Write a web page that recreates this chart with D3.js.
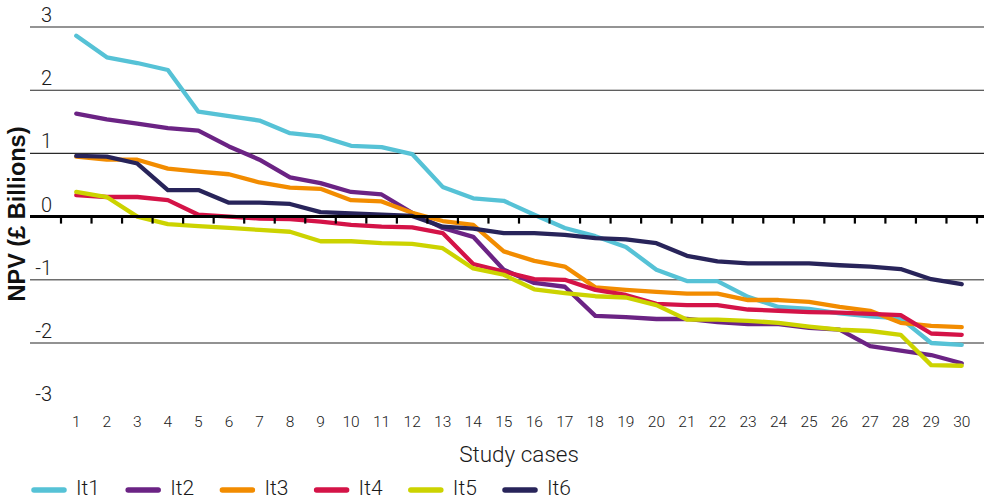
<!DOCTYPE html>
<html>
<head>
<meta charset="utf-8">
<script src="https://cdn.jsdelivr.net/npm/d3@7"></script>
<style>
  html, body { margin: 0; padding: 0; background: #fff; }
  svg { display: block; }
  .lt { font-family: Roboto, "Liberation Sans", Arial, sans-serif; font-weight: 300; fill: #1a1a1a; }
</style>
</head>
<body>
<svg id="chart" width="984" height="500"></svg>
<script>
const categories = d3.range(1, 31).map(String);
const yTicks = [3, 2, 1, 0, -1, -2, -3];
const seriesNames = ["It1", "It2", "It3", "It4", "It5", "It6"];
const seriesColors = ["#56C2D6", "#6B2384", "#F28C00", "#D41347", "#CCD300", "#28245A"];

const it1 = [2.86, 2.52, 2.43, 2.32, 1.66, 1.59, 1.52, 1.32, 1.27, 1.12, 1.10, 0.99, 0.47, 0.29, 0.25, 0.03, -0.18, -0.31, -0.48, -0.84, -1.02, -1.02, -1.27, -1.43, -1.46, -1.53, -1.58, -1.61, -2.00, -2.03];
const it2 = [1.63, 1.54, 1.47, 1.40, 1.36, 1.11, 0.90, 0.62, 0.53, 0.39, 0.35, 0.06, -0.18, -0.32, -0.84, -1.05, -1.11, -1.57, -1.59, -1.62, -1.62, -1.67, -1.70, -1.70, -1.76, -1.79, -2.05, -2.12, -2.19, -2.32];
const it3 = [0.95, 0.90, 0.90, 0.76, 0.71, 0.67, 0.54, 0.46, 0.44, 0.26, 0.24, 0.06, -0.07, -0.13, -0.55, -0.70, -0.79, -1.12, -1.16, -1.19, -1.22, -1.22, -1.32, -1.32, -1.35, -1.43, -1.49, -1.68, -1.73, -1.75];
const it4 = [0.34, 0.31, 0.31, 0.26, 0.03, 0.00, -0.03, -0.04, -0.08, -0.13, -0.16, -0.17, -0.26, -0.75, -0.87, -0.99, -1.00, -1.16, -1.24, -1.38, -1.40, -1.40, -1.47, -1.49, -1.51, -1.52, -1.54, -1.56, -1.85, -1.87];
const it5 = [0.39, 0.31, 0.00, -0.12, -0.15, -0.18, -0.21, -0.24, -0.39, -0.39, -0.42, -0.43, -0.50, -0.82, -0.92, -1.15, -1.21, -1.26, -1.28, -1.40, -1.63, -1.63, -1.65, -1.68, -1.74, -1.79, -1.81, -1.87, -2.35, -2.36];
const it6 = [0.96, 0.95, 0.84, 0.42, 0.42, 0.22, 0.22, 0.20, 0.07, 0.05, 0.03, 0.01, -0.16, -0.19, -0.26, -0.26, -0.29, -0.34, -0.36, -0.42, -0.62, -0.71, -0.74, -0.74, -0.74, -0.77, -0.79, -0.83, -0.99, -1.07];
const seriesValues = [it1, it2, it3, it4, it5, it6];

const svg = d3.select("#chart");

const x = d3.scaleBand().domain(categories).range([61, 977]).padding(0);
const y = d3.scaleLinear().domain([-3, 3]).range([406.2, 27]);
const cx = c => x(c) + x.bandwidth() / 2;

// gridlines (excluding zero and bottom)
svg.append("g").selectAll("line")
  .data(yTicks.filter(v => v !== 0 && v !== -3))
  .join("line")
  .attr("x1", 30).attr("x2", 984)
  .attr("y1", d => y(d)).attr("y2", d => y(d))
  .attr("stroke", d => d > 0 ? "#2a2a2a" : "#6e6e6e")
  .attr("stroke-width", d => d > 0 ? 1.1 : 1.4);

// y tick labels
svg.append("g").selectAll("text")
  .data(yTicks)
  .join("text")
  .attr("class", "lt")
  .attr("x", 52).attr("y", d => y(d) - 5)
  .attr("text-anchor", "end")
  .attr("font-size", 20)
  .text(d => d);

// y axis title
svg.append("text")
  .attr("transform", "translate(25,214) rotate(-90)")
  .attr("text-anchor", "middle")
  .attr("font-family", "'Liberation Sans', Arial, sans-serif")
  .attr("font-weight", "bold")
  .attr("font-size", 23.5)
  .attr("fill", "#111")
  .text("NPV (£ Billions)");

// lines
const line = d3.line()
  .x((d, i) => cx(categories[i]))
  .y(d => y(d));

svg.append("g").selectAll("path")
  .data(seriesValues)
  .join("path")
  .attr("d", d => line(d))
  .attr("fill", "none")
  .attr("stroke", (d, i) => seriesColors[i])
  .attr("stroke-width", 4.3)
  .attr("stroke-linejoin", "round")
  .attr("stroke-linecap", "round");

// zero axis line with ticks at band boundaries
const y0 = y(0);
svg.append("line")
  .attr("x1", 30).attr("x2", 984)
  .attr("y1", y0).attr("y2", y0)
  .attr("stroke", "#000").attr("stroke-width", 3);
const boundaries = categories.map(c => x(c)).concat([x(categories[categories.length - 1]) + x.bandwidth()]);
svg.append("g").selectAll("line")
  .data(boundaries)
  .join("line")
  .attr("x1", d => d).attr("x2", d => d)
  .attr("y1", y0).attr("y2", y0 + 7)
  .attr("stroke", "#000").attr("stroke-width", 2.2);

// x tick labels
svg.append("g").selectAll("text")
  .data(categories)
  .join("text")
  .attr("class", "lt")
  .attr("x", d => cx(d)).attr("y", 427)
  .attr("text-anchor", "middle")
  .attr("font-size", 15.5)
  .text(d => d);

// x axis title
svg.append("text")
  .attr("class", "lt")
  .attr("x", 519).attr("y", 462)
  .attr("text-anchor", "middle")
  .attr("font-size", 22.5)
  .text("Study cases");

// legend
const legend = svg.append("g").selectAll("g")
  .data(seriesNames)
  .join("g")
  .attr("transform", (d, i) => `translate(${32 + i * 94.2},0)`);
legend.append("line")
  .attr("x1", 2).attr("x2", 32)
  .attr("y1", 490).attr("y2", 490)
  .attr("stroke", (d, i) => seriesColors[i])
  .attr("stroke-width", 5.5)
  .attr("stroke-linecap", "round");
legend.append("text")
  .attr("class", "lt")
  .attr("x", 44).attr("y", 495)
  .attr("font-size", 21)
  .text(d => d);
</script>
</body>
</html>
